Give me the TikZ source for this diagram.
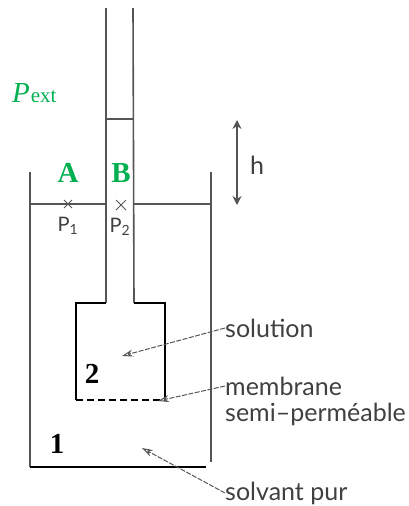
\documentclass[tikz,border=0pt]{standalone}
\usepackage{fontspec}
\setmainfont{Liberation Serif}
\newfontfamily\scanfont{Lato}
\usetikzlibrary{arrows.meta}
\definecolor{labelgreen}{RGB}{0,176,80}
\definecolor{scangray}{RGB}{85,85,85}
\tikzset{
  wall/.style={line width=1.6pt,scangray},
  solid wall/.style={line width=2pt,black},
  scan label/.style={font=\scanfont\fontsize{25}{25}\selectfont,text=black!75,inner sep=0pt},
  level label/.style={font=\scanfont\fontsize{20}{20}\selectfont,text=black!75,inner sep=0pt},
  point label/.style={font=\bfseries\fontsize{29}{29}\selectfont,text=labelgreen,inner sep=0pt},
  zone label/.style={font=\bfseries\fontsize{29}{29}\selectfont,inner sep=0pt},
  pointer/.style={line width=1pt,scangray,dashed,dash pattern=on 5pt off 1.5pt,-{Stealth[length=11pt,width=7pt,open]}},
}
\begin{document}
\begin{tikzpicture}[x=1pt,y=-1pt]
    \useasboundingbox (0,0) rectangle (409,506);

    % outer vessel
    \draw[wall] (30,172)--(30,467);
    \draw[wall] (211,172)--(211,462);
    \draw[solid wall] (30,467)--(206,467);
    \draw[wall] (30,204)--(106,204);
    \draw[wall] (134,204)--(211,204);

    % tube and inner cell
    \draw[wall] (106,8)--(106,303);
    \draw[wall] (133,8)--(134,303);
    \draw[wall] (106,119)--(133,119);
    \draw[solid wall] (106,303)--(76,303)--(76,400);
    \draw[solid wall] (134,303)--(165,303)--(165,400);
    \draw[solid wall,dash pattern=on 7pt off 4pt] (76,400)--(165,400);

    % levels
    \draw[line width=0.8pt,scangray] (64,200)--(72,208) (64,208)--(72,200);
    \draw[line width=0.8pt,scangray] (116,200)--(126,210) (116,210)--(126,200);
    \node[level label] (p1) at (68,226) {P\textsubscript{1}};
    \node[level label] (p2) at (120,227) {P\textsubscript{2}};

    \node[point label] (a) at (68,173) {A};
    \node[point label] (b) at (121,173) {B};
    \node[text=labelgreen,inner sep=0pt,anchor=base west,font=\fontsize{29}{29}\selectfont] (pext) at (12,102)
      {\textit{P}\kern1pt\raisebox{0pt}{\fontsize{21}{21}\selectfont ext}};

    \node[zone label] (two) at (92,374) {2};
    \node[zone label] (one) at (57,444) {1};

    % height mark
    \coordinate (htop) at (237,120);
    \coordinate (hbot) at (237,205);
    \draw[line width=1.2pt,scangray,{Stealth[length=9pt,width=9pt]}-{Stealth[length=9pt,width=9pt]}] (htop)--(hbot);
    \node[scan label] (h) at (257,165) {h};

    % labels on the right
    \node[scan label,anchor=west] (solution) at (225,328) {solution};
    \node[scan label,anchor=west] (membrane) at (225,386) {membrane};
    \node[scan label,anchor=west] (semi) at (225,414) {semi–perméable};
    \node[scan label,anchor=west] (solvant) at (225,493) {solvant pur};

    \coordinate (insol) at (122,356);
    \coordinate (onmem) at (158,401);
    \coordinate (inpur) at (142,448);
    \draw[pointer] (solution.west)--(insol);
    \draw[pointer] (membrane.west)--(onmem);
    \draw[pointer] (solvant.west)--(inpur);
\end{tikzpicture}
\end{document}
